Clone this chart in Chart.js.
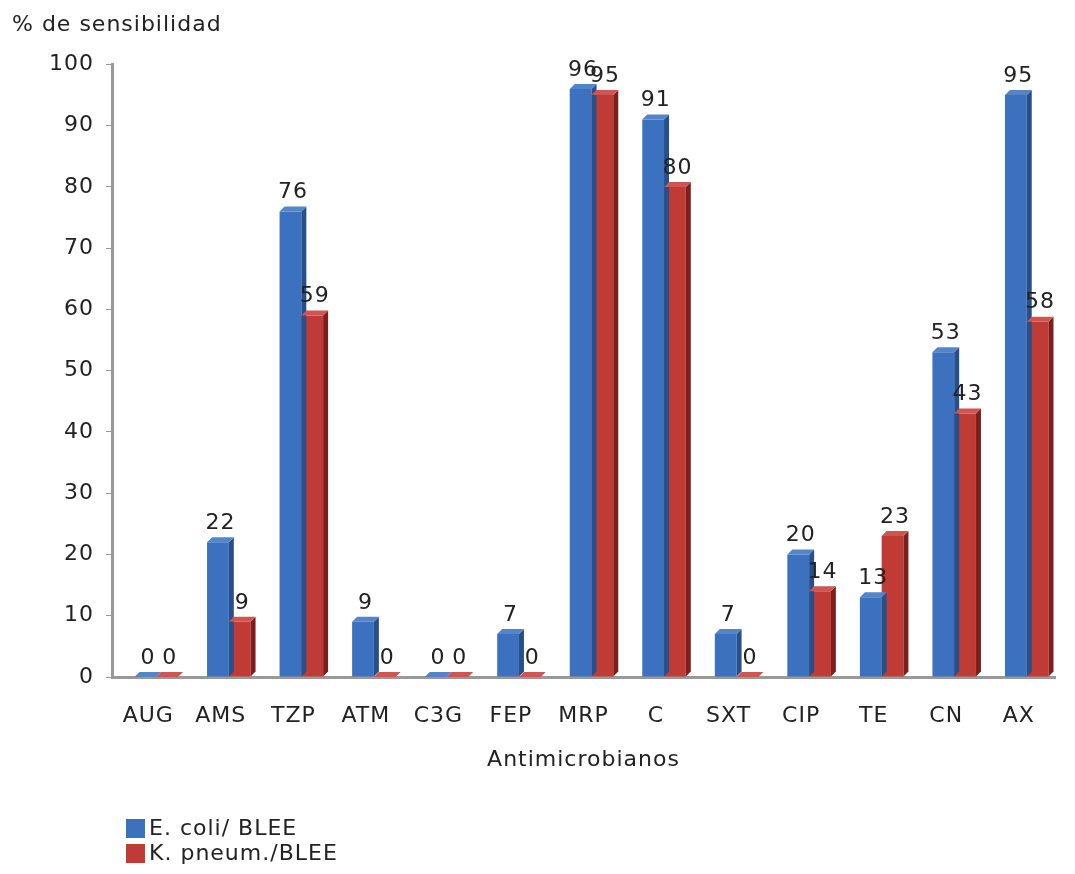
<!DOCTYPE html>
<html>
<head>
<meta charset="utf-8">
<script src="https://cdn.jsdelivr.net/npm/chart.js@4/dist/chart.umd.min.js"></script>
<style>
  body { margin: 0; background: #fff; font-family: "DejaVu Sans", sans-serif; }
  #wrap { position: relative; width: 1075px; height: 874px; }
  #legend { position: absolute; left: 126px; top: 815px; font-size: 22px; letter-spacing: 1px; color: #222; }
  #legend div { height: 25px; line-height: 25px; white-space: nowrap; }
  #legend span.box { display: inline-block; width: 19px; height: 19px; vertical-align: -3px; margin-right: 4px; }
</style>
</head>
<body>
<div id="wrap">
  <canvas id="chart" width="1075" height="874"></canvas>
  <div id="legend"></div>
</div>
<script>
'use strict';

const categories = ['AUG', 'AMS', 'TZP', 'ATM', 'C3G', 'FEP', 'MRP', 'C', 'SXT', 'CIP', 'TE', 'CN', 'AX'];
const ecoli = [0, 22, 76, 9, 0, 7, 96, 91, 7, 20, 13, 53, 95];
const kpneum = [0, 9, 59, 0, 0, 0, 95, 80, 0, 14, 23, 43, 58];
const seriesNames = ['E. coli/ BLEE', 'K. pneum./BLEE'];
const yTicks = { min: 0, max: 100, step: 10 };

const colors = [
  { front: '#3b71be', side: '#27508a', top: '#5585c9' },
  { front: '#c03a36', side: '#7c1f1d', top: '#cf5551' }
];
const DEPTH = 5;
const SHIFT = 8; // bars sit a little right of the label, like the 3d original
const FONT = '"DejaVu Sans", sans-serif';

// wider lettering, closer to the original's look
const spacing = {
  id: 'spacing',
  beforeInit(chart) { chart.ctx.letterSpacing = '1px'; },
  beforeDraw(chart) { chart.ctx.letterSpacing = '1px'; }
};

// fake 3d: side and top faces plus value labels
const bar3d = {
  id: 'bar3d',
  beforeDatasetsDraw(chart) {
    chart.ctx.save();
    chart.ctx.translate(SHIFT, 0);
  },
  afterDatasetsDraw(chart) {
    const ctx = chart.ctx;
    chart.data.datasets.forEach((ds, i) => {
      const meta = chart.getDatasetMeta(i);
      const c = colors[i];
      meta.data.forEach((bar) => {
        const l = bar.x - bar.width / 2;
        const r = bar.x + bar.width / 2;
        const top = bar.y;
        const base = bar.base;
        ctx.fillStyle = c.side;
        ctx.beginPath();
        ctx.moveTo(r, top);
        ctx.lineTo(r + DEPTH, top - DEPTH);
        ctx.lineTo(r + DEPTH, base - DEPTH);
        ctx.lineTo(r, base);
        ctx.closePath();
        ctx.fill();
        ctx.fillStyle = c.top;
        ctx.beginPath();
        ctx.moveTo(l, top);
        ctx.lineTo(l + DEPTH, top - DEPTH);
        ctx.lineTo(r + DEPTH, top - DEPTH);
        ctx.lineTo(r, top);
        ctx.closePath();
        ctx.fill();
      });
    });
    ctx.fillStyle = '#222';
    ctx.font = '22px ' + FONT;
    ctx.textAlign = 'center';
    ctx.textBaseline = 'bottom';
    chart.data.datasets.forEach((ds, i) => {
      const meta = chart.getDatasetMeta(i);
      meta.data.forEach((bar, j) => {
        ctx.fillText(String(ds.data[j]), bar.x + DEPTH / 2, bar.y - DEPTH - 3);
      });
    });
    ctx.restore();
  }
};

const chart = new Chart(document.getElementById('chart'), {
  type: 'bar',
  data: {
    labels: categories,
    datasets: [
      { label: seriesNames[0], data: ecoli, backgroundColor: colors[0].front },
      { label: seriesNames[1], data: kpneum, backgroundColor: colors[1].front }
    ]
  },
  options: {
    responsive: false,
    animation: false,
    layout: { padding: { left: 12, right: 20, bottom: 101 } },
    datasets: { bar: { categoryPercentage: 0.6, barPercentage: 1 } },
    plugins: {
      legend: { display: false },
      tooltip: { enabled: false },
      title: {
        display: true,
        text: '% de sensibilidad',
        align: 'start',
        color: '#222',
        font: { family: FONT, size: 22, weight: 'normal' },
        padding: { top: 12, bottom: 26 }
      }
    },
    scales: {
      x: {
        grid: { display: false, tickLength: 0 },
        border: { display: true, color: '#999', width: 3 },
        ticks: { color: '#222', font: { family: FONT, size: 22 }, padding: 26 },
        title: {
          display: true,
          text: 'Antimicrobianos',
          color: '#222',
          font: { family: FONT, size: 22 },
          padding: { top: 10, bottom: 0 }
        },
        afterFit(s) { s.height = 96; }
      },
      y: {
        min: yTicks.min,
        max: yTicks.max,
        grid: { display: true, drawOnChartArea: false, tickLength: 6, color: '#999' },
        border: { display: true, color: '#999', width: 3 },
        ticks: { stepSize: yTicks.step, color: '#222', font: { family: FONT, size: 22 }, padding: 12 },
        afterFit(s) { s.width = 100; }
      }
    }
  },
  plugins: [spacing, bar3d]
});

const legend = document.getElementById('legend');
chart.data.datasets.forEach((ds) => {
  const row = document.createElement('div');
  row.innerHTML = '<span class="box" style="background:' + ds.backgroundColor + '"></span>' + ds.label;
  legend.appendChild(row);
});
</script>
</body>
</html>
